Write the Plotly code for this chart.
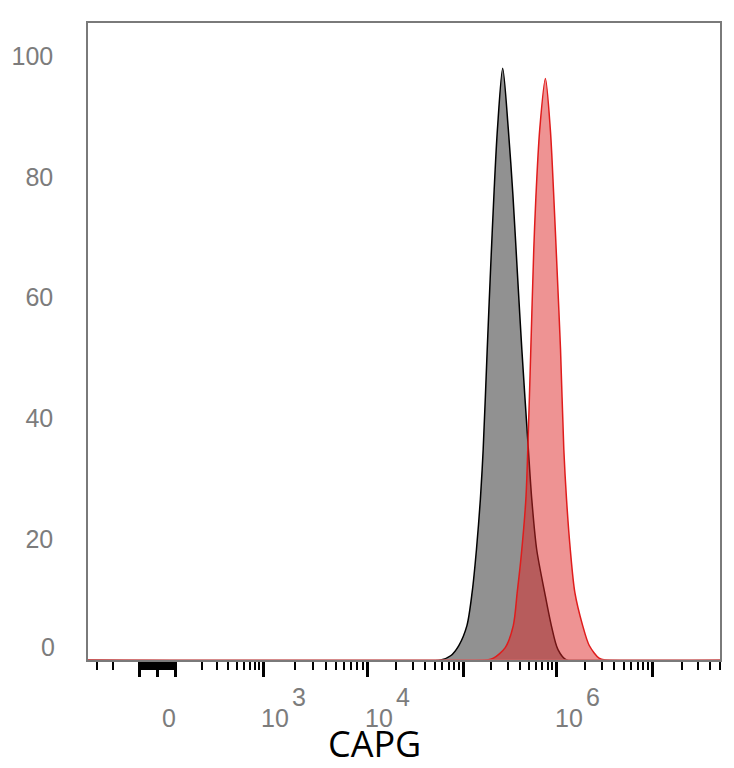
import numpy as np
import plotly.graph_objects as go

# ---------------- data (fluorescence intensity, % of max) ----------------
control_intensity = [-500, 5.80e4, 7.35e4, 8.95e4, 1.09e5, 1.24e5, 1.38e5, 1.52e5, 1.63e5,
                     1.80e5, 1.96e5, 2.14e5, 2.32e5, 2.64e5, 3.03e5, 3.40e5, 3.80e5,
                     4.24e5, 4.98e5, 5.42e5, 6.12e5, 7.45e5, 8.79e5, 1.03e6, 1.27e6, 8e7]
control_percent = [0, 0, 0.7, 2.4, 5.7, 11.2, 18.3, 26.6, 34.9,
                   51.4, 65.0, 78.0, 88.0, 98.0, 88.0, 77.0, 64.0,
                   51.4, 34.9, 26.6, 18.3, 11.2, 5.7, 1.8, 0, 0]

capg_intensity = [-500, 1.79e5, 2.10e5, 2.80e5, 3.43e5, 3.78e5, 4.14e5, 4.68e5, 4.91e5,
                  5.29e5, 5.69e5, 5.98e5, 6.59e5, 7.59e5, 8.58e5, 9.29e5, 1.01e6,
                  1.10e6, 1.19e6, 1.27e6, 1.39e6, 1.55e6, 1.87e6, 2.19e6, 2.77e6,
                  3.20e6, 8e7]
capg_percent = [0, 0, 0.3, 2.0, 5.7, 11.2, 16.7, 26.6, 34.9,
                51.4, 67.9, 76.2, 87.8, 96.3, 87.8, 77.5, 65.0,
                51.4, 34.9, 26.6, 18.3, 11.2, 5.7, 2.4, 0.3,
                0, 0]

y_tick_values = [20, 40, 60, 80, 100]
x_major_ticks = [-100, 0, 100, 1e3, 1e4, 1e5, 1e6, 1e7]
x_labels = [(0, "0", ""), (1e3, "10", "3"), (1e4, "10", "4"), (1e6, "10", "6")]
axis_title = "CAPG"

# ---------------- biexponential-like display scale ----------------
ZERO_POS = 70.0
LIN_HALF = 18.0           # display width of the linear region 0..100
DEC_EXP = [2, 3, 4, 5, 6, 7, 8]
DEC_POS = [88, 177, 282, 379, 473, 570, 667]
X_RANGE = [0, 638]


def to_display(v):
    v = np.asarray(v, dtype=float)
    a = np.abs(v)
    lin = ZERO_POS + np.sign(v) * np.minimum(a, 100) / 100 * LIN_HALF
    logpos = np.interp(np.log10(np.maximum(a, 100)), DEC_EXP, DEC_POS)
    out = np.where(a <= 100, lin, np.where(v > 0, logpos, 2 * ZERO_POS - logpos))
    return out


minor_vals = list(range(-95, 100, 5))
for k in range(2, 8):
    for m in range(2, 10):
        minor_vals.append(m * 10 ** k)
for m in range(2, 10):
    minor_vals.append(-m * 100)
minor_pos = [p for p in to_display(minor_vals) if X_RANGE[0] <= p <= X_RANGE[1]]
major_pos = list(to_display(x_major_ticks))

fig = go.Figure()
fig.add_trace(go.Scatter(
    x=to_display(control_intensity), y=control_percent, mode="lines",
    line=dict(color="black", width=1.5, shape="spline", smoothing=0.8),
    fill="tozeroy", fillcolor="#919191", name="Control", showlegend=False))
fig.add_trace(go.Scatter(
    x=to_display(capg_intensity), y=capg_percent, mode="lines",
    line=dict(color="#e01c1c", width=1.5, shape="spline", smoothing=0.8),
    fill="tozeroy", fillcolor="rgba(222,40,40,0.5)", name="CAPG", showlegend=False))

label_font = dict(family="Liberation Sans, Arial, sans-serif", size=25, color="#7c7c7c")
annotations = []
for val, base, exp in x_labels:
    xp = float(to_display([val])[0])
    annotations.append(dict(x=xp, xref="x", y=0, yref="paper", text=base, showarrow=False,
                            xanchor="center", yanchor="middle", xshift=12, yshift=-58,
                            font=label_font))
    if exp:
        annotations.append(dict(x=xp, xref="x", y=0, yref="paper", text=exp, showarrow=False,
                                xanchor="center", yanchor="middle", xshift=36, yshift=-37,
                                font=label_font))
annotations.append(dict(x=0, xref="paper", y=0, yref="y", text="0", showarrow=False,
                        xanchor="right", yanchor="middle", xshift=-31, yshift=13,
                        font=label_font))
annotations.append(dict(x=0.453, xref="paper", y=0, yref="paper", text=axis_title,
                        showarrow=False, xanchor="center", yanchor="middle", yshift=-83,
                        font=dict(family="Open Sans, Noto Sans, sans-serif", size=36,
                                  color="black")))

fig.update_layout(
    width=734, height=768,
    margin=dict(l=84, r=12, t=23, b=108),
    paper_bgcolor="white", plot_bgcolor="white",
    annotations=annotations,
    shapes=[dict(type="line", xref="paper", x0=0, x1=1, yref="y", y0=0, y1=0,
                 line=dict(color="#c86464", width=1.5), layer="above")],
    xaxis=dict(range=X_RANGE, showgrid=False, zeroline=False,
               showline=True, mirror=True, linecolor="#7a7a7a", linewidth=1.5,
               tickmode="array", tickvals=major_pos, showticklabels=False,
               ticks="outside", ticklen=15, tickwidth=3, tickcolor="black",
               minor=dict(tickmode="array", tickvals=minor_pos, ticks="outside",
                          ticklen=8, tickwidth=1.5, tickcolor="black"),
               layer="below traces"),
    yaxis=dict(range=[0, 105.5], showgrid=False, zeroline=False,
               showline=True, mirror=True, linecolor="#7a7a7a", linewidth=1.5,
               tickmode="array", tickvals=y_tick_values,
               ticks="outside", ticklen=28, tickcolor="rgba(0,0,0,0)",
               tickfont=label_font, layer="below traces"),
)

fig.write_html("out.html", config={"displayModeBar": False},
               post_script="document.body.style.margin='0';document.body.style.overflow='hidden';")
